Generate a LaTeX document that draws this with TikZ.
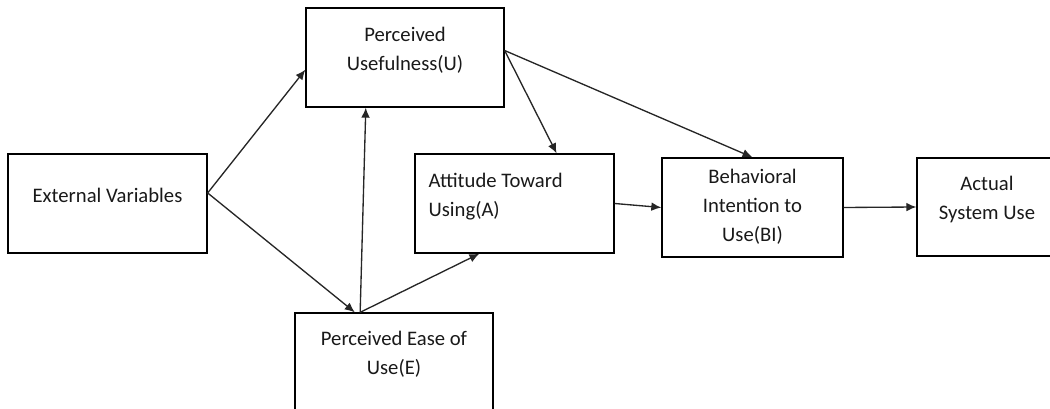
\documentclass[tikz,border=0pt]{standalone}
\usepackage{fontspec}
\setmainfont{Carlito}
\usetikzlibrary{arrows.meta,positioning,calc}
\tikzset{
  box/.style={draw, line width=1pt, inner sep=0pt},
  lbl/.style={font=\fontsize{15.5}{21.8}\selectfont, align=center, inner sep=0pt, text=black!90},
  flow/.style={-{Latex[length=7.5pt,width=6.5pt]}, line width=1pt, black!85},
}
\begin{document}
\begin{tikzpicture}[x=0.75pt, y=-0.75pt]
    \useasboundingbox (0,0) rectangle (1050,409);
    \clip (0,0) rectangle (1050,409);
    % Boxes
    \node[box, minimum width=149.25pt, minimum height=74.25pt] (ext) at (107.5,203.5) {};
    \node[box, minimum width=148.5pt, minimum height=74.25pt] (useful) at (405,57.5) {};
    \node[box, minimum width=149.25pt, minimum height=74.25pt] (att) at (514.5,203.5) {};
    \node[box, minimum width=135.75pt, minimum height=74.25pt] (bi) at (752.5,207.5) {};
    \node[box, minimum width=105pt, minimum height=73.5pt] (act) at (987,207) {};
    \node[box, minimum width=148.5pt, minimum height=74.25pt] (ease) at (394,362.5) {};
    % Labels
    \node[lbl] (ext-t) at ([yshift=6.4pt]ext.center) {External Variables};
    \node[lbl] (useful-t) at ([yshift=5.6pt]useful.center) {Perceived\\Usefulness(U)};
    \node[lbl, align=left, anchor=west] (att-t) at ([xshift=10.5pt,yshift=4.9pt]att.west) {Attitude Toward\\Using(A)};
    \node[lbl] (bi-t) at ([yshift=0.4pt]bi.center) {Behavioral\\Intention to\\Use(BI)};
    \node[lbl] (act-t) at ([yshift=5.6pt]act.center) {Actual\\System Use};
    \node[lbl] (ease-t) at ([yshift=6.4pt]ease.center) {Perceived Ease of\\Use(E)};
    % Connectors
    \draw[flow] (ext.6) -- (useful.187);
    \draw[flow] (ext.6) -- (ease.128);
    \draw[flow] (ease.124) -- (useful.232);
    \draw[flow] (ease.124) -- (att.235);
    \draw[flow] (useful.4) -- (att.50);
    \draw[flow] (useful.4) -- (bi.north);
    \draw[flow] (att.east) -- (bi.west);
    \draw[flow] (bi.east) -- (act.west);
\end{tikzpicture}
\end{document}
